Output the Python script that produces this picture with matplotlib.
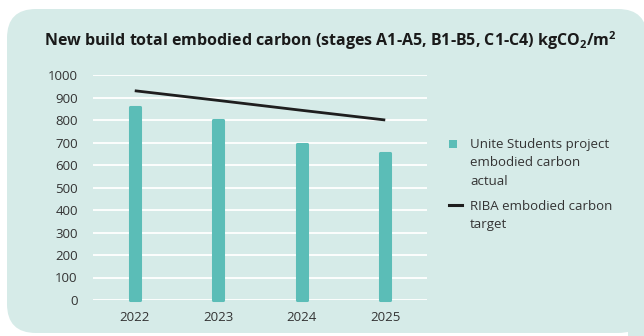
import matplotlib
matplotlib.use("Agg")
import matplotlib.pyplot as plt
from matplotlib.patches import FancyBboxPatch, Rectangle
from matplotlib.lines import Line2D

years = ["2022", "2023", "2024", "2025"]
actual = [858, 800, 692, 652]
target = [930, 887, 843, 800]
yticks = [0, 100, 200, 300, 400, 500, 600, 700, 800, 900, 1000]
legend_labels = ["Unite Students project\nembodied carbon\nactual",
                 "RIBA embodied carbon\ntarget"]

plt.rcParams['font.family'] = ['Open Sans', 'DejaVu Sans']
plt.rcParams['mathtext.fontset'] = 'custom'
plt.rcParams['mathtext.rm'] = 'Open Sans'
plt.rcParams['mathtext.bf'] = 'Open Sans:bold'

BG = '#d6ebe8'
BAR = '#5bbdb7'
TXT = '#333333'
LINE = '#1e1e1e'

W, H = 644, 336
fig = plt.figure(figsize=(6.44, 3.36), dpi=100)
fig.patch.set_facecolor('white')


def fx(px):
    return px / W


def fy(py):
    return 1 - py / H


bg = FancyBboxPatch((fx(7), fy(333)), (647 - 7) / W, (333 - 9) / H,
                    boxstyle="round,pad=0,rounding_size=0.045",
                    transform=fig.transFigure, facecolor=BG, edgecolor='none',
                    mutation_aspect=W / H, zorder=-5)
fig.patches.append(bg)
fig.patches.append(Rectangle((fx(628), 0), 1, fy(300), transform=fig.transFigure,
                             facecolor=BG, edgecolor='none', zorder=-5))

ax = fig.add_axes([fx(93), fy(300), (427 - 93) / W, (300 - 75) / H])
ax.set_facecolor('none')
x = list(range(len(years)))
ax.bar(x, actual, width=0.125, color=BAR, edgecolor=BAR, linewidth=2.2,
       joinstyle='round', zorder=3, clip_on=False)
ax.plot(x, target, color=LINE, linewidth=2, zorder=4, solid_capstyle='butt')

ax.set_xlim(-0.5, 3.5)
ax.set_ylim(0, 1000)
ax.set_yticks(yticks)
ax.set_xticks(x)
ax.set_xticklabels(years)
ax.grid(axis='y', color='white', linewidth=1.3, zorder=1)
ax.set_axisbelow(True)
for s in ax.spines.values():
    s.set_visible(False)
ax.tick_params(axis='both', length=0, labelsize=9.5, colors=TXT)
ax.tick_params(axis='y', pad=11)
ax.tick_params(axis='x', pad=8)

fig.text(fx(330), fy(41),
         r"New build total embodied carbon (stages A1-A5, B1-B5, C1-C4) kgCO$_\mathbf{2}$/m$^\mathbf{2}$",
         ha='center', va='center', fontsize=11.5, fontweight='bold', color='#1a1a1a')

# manual legend (handles aligned with the first text line)
fig.patches.append(Rectangle((fx(449), fy(148)), 8 / W, 8 / H, transform=fig.transFigure,
                             facecolor=BAR, edgecolor='none', zorder=5))
fig.lines.append(Line2D([fx(449), fx(462)], [fy(205), fy(205)], transform=fig.transFigure,
                        color=LINE, linewidth=2.2, zorder=5))
fig.text(fx(470), fy(138), legend_labels[0], ha='left', va='top', fontsize=9.5,
         color=TXT, linespacing=1.55)
fig.text(fx(470), fy(199.5), legend_labels[1], ha='left', va='top', fontsize=9.5,
         color=TXT, linespacing=1.55)

fig.savefig("out.png", dpi=100, facecolor='white')
